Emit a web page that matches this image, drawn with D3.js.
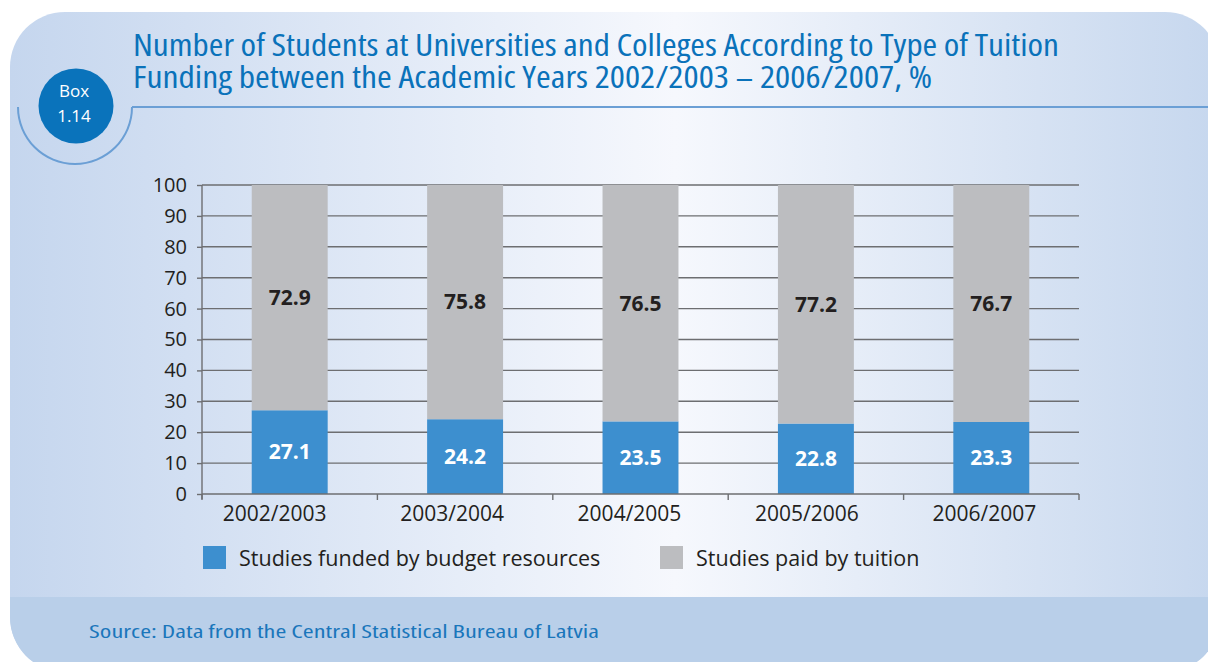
<!DOCTYPE html>
<html>
<head>
<meta charset="utf-8">
<script src="https://cdn.jsdelivr.net/npm/d3@7"></script>
<style>
  html, body { margin: 0; padding: 0; background: #ffffff; }
  svg { display: block; }
</style>
</head>
<body>
<svg id="chart" width="1208" height="662"></svg>
<script>
// Academic years and the share of students by tuition funding type, %
const years = ["2002/2003", "2003/2004", "2004/2005", "2005/2006", "2006/2007"];
const budgetFunded = [27.1, 24.2, 23.5, 22.8, 23.3];
const tuitionPaid = [72.9, 75.8, 76.5, 77.2, 76.7];
const seriesNames = ["Studies funded by budget resources", "Studies paid by tuition"];
const yTicks = [0, 10, 20, 30, 40, 50, 60, 70, 80, 90, 100];

const W = 1208, H = 662;
const blue = "#3d8fcf", gray = "#bcbdc0", titleBlue = "#0a72ba", ink = "#231f20";
const svg = d3.select("#chart");
const defs = svg.append("defs");

// Panel background: horizontal bluish-white gradient
const grad = defs.append("linearGradient").attr("id", "panelGrad")
  .attr("x1", "0").attr("x2", "1").attr("y1", "0").attr("y2", "0");
grad.append("stop").attr("offset", "0%").attr("stop-color", "#c5d6ee");
grad.append("stop").attr("offset", "55%").attr("stop-color", "#f6f8fd");
grad.append("stop").attr("offset", "100%").attr("stop-color", "#c6d7ee");

const panel = { x: 10, y: 12, w: 1210, h: 660, r: 55 };
defs.append("clipPath").attr("id", "panelClip")
  .append("rect").attr("x", panel.x).attr("y", panel.y)
  .attr("width", panel.w).attr("height", panel.h).attr("rx", panel.r).attr("ry", panel.r);

const bg = svg.append("g").attr("clip-path", "url(#panelClip)");
bg.append("rect").attr("x", panel.x).attr("y", panel.y)
  .attr("width", panel.w).attr("height", panel.h).attr("fill", "url(#panelGrad)");
// Source band at the bottom
bg.append("rect").attr("x", panel.x).attr("y", 597)
  .attr("width", panel.w).attr("height", 80).attr("fill", "#b9cfe9");

// Header: rule, arc around the badge, badge
svg.append("line").attr("x1", 132).attr("x2", W).attr("y1", 107).attr("y2", 107)
  .attr("stroke", "#6b9fd5").attr("stroke-width", 2);
svg.append("path").attr("transform", "translate(75,107)")
  .attr("d", d3.arc()({ innerRadius: 56, outerRadius: 58, startAngle: Math.PI / 2, endAngle: Math.PI * 1.5 }))
  .attr("fill", "#6b9fd5");
svg.append("circle").attr("cx", 76).attr("cy", 106).attr("r", 37.5).attr("fill", "#0a73bb");
const badge = svg.append("g").attr("font-family", "'Open Sans', sans-serif")
  .attr("font-size", 17).attr("fill", "#fff").attr("text-anchor", "middle");
badge.append("text").attr("x", 74).attr("y", 97).text("Box");
badge.append("text").attr("x", 74).attr("y", 122).text("1.14");

// Title (condensed)
const titleLines = [
  { t: "Number of Students at Universities and Colleges According to Type of Tuition", y: 56, len: 926 },
  { t: "Funding between the Academic Years 2002/2003 \u2013 2006/2007, %", y: 88, len: 799 }
];
svg.selectAll("text.title").data(titleLines).join("text").attr("class", "title")
  .attr("x", 133).attr("y", d => d.y)
  .attr("font-family", "'Open Sans', sans-serif").attr("font-stretch", "condensed")
  .attr("font-size", 31).attr("fill", titleBlue)
  .attr("textLength", d => d.len).attr("lengthAdjust", "spacingAndGlyphs")
  .text(d => d.t);

// Scales
const x = d3.scaleBand().domain(years).range([202, 1079]).paddingInner(0.567).paddingOuter(0.2835);
const y = d3.scaleLinear().domain([0, 100]).range([494, 185]);
const axisColor = "#6d6e71";

// Gridlines
svg.append("g").selectAll("line").data(yTicks.filter(d => d > 0)).join("line")
  .attr("x1", 202).attr("x2", 1079).attr("y1", d => y(d)).attr("y2", d => y(d))
  .attr("stroke", axisColor).attr("stroke-width", 1.4);

// Y axis
const yAxis = svg.append("g").attr("transform", "translate(202,0)")
  .call(d3.axisLeft(y).tickValues(yTicks).tickSize(5).tickSizeOuter(0));
yAxis.select(".domain").attr("stroke", axisColor).attr("stroke-width", 1.4)
  .attr("d", `M0,${y(100)}V${y(0) + 5}`);
yAxis.selectAll(".tick line").attr("stroke", axisColor).attr("stroke-width", 1.4);
yAxis.selectAll(".tick text").attr("x", -15).attr("fill", ink)
  .attr("font-family", "'Open Sans', sans-serif").attr("font-size", 20);

// Stacked bars
const rows = years.map((yr, i) => ({ yr, b: budgetFunded[i], t: tuitionPaid[i] }));
const bars = svg.append("g");
bars.selectAll("rect.budget").data(rows).join("rect").attr("class", "budget")
  .attr("x", d => x(d.yr)).attr("width", x.bandwidth())
  .attr("y", d => y(d.b)).attr("height", d => y(0) - y(d.b)).attr("fill", blue);
bars.selectAll("rect.tuition").data(rows).join("rect").attr("class", "tuition")
  .attr("x", d => x(d.yr)).attr("width", x.bandwidth())
  .attr("y", d => y(d.b + d.t)).attr("height", d => y(d.b) - y(d.b + d.t)).attr("fill", gray);

// X axis: baseline with ticks between categories
svg.append("line").attr("x1", 202).attr("x2", 1079).attr("y1", y(0)).attr("y2", y(0))
  .attr("stroke", axisColor).attr("stroke-width", 1.4);
const bounds = d3.range(years.length + 1).map(i => x.range()[0] + i * x.step());
svg.append("g").selectAll("line").data(bounds).join("line")
  .attr("x1", d => d).attr("x2", d => d).attr("y1", y(0)).attr("y2", y(0) + 6)
  .attr("stroke", axisColor).attr("stroke-width", 1.4);
svg.append("g").selectAll("text").data(years).join("text")
  .attr("x", (d, i) => x(d) + x.bandwidth() / 2 - 15 + i * 2).attr("y", 521).attr("text-anchor", "middle")
  .attr("font-family", "'Open Sans', sans-serif").attr("font-size", 21).attr("fill", ink)
  .text(d => d);

// Value labels
const lbl = svg.append("g").attr("font-family", "'Open Sans', sans-serif")
  .attr("font-weight", "bold").attr("font-size", 21).attr("text-anchor", "middle");
lbl.selectAll("text.b").data(rows).join("text").attr("class", "b")
  .attr("x", d => x(d.yr) + x.bandwidth() / 2).attr("y", d => y(d.b / 2)).attr("dy", "0.35em")
  .attr("fill", "#ffffff").text(d => d.b.toFixed(1));
lbl.selectAll("text.t").data(rows).join("text").attr("class", "t")
  .attr("x", d => x(d.yr) + x.bandwidth() / 2).attr("y", d => y(d.b + d.t / 2)).attr("dy", "0.35em")
  .attr("fill", ink).text(d => d.t.toFixed(1));

// Legend
const legend = [{ name: seriesNames[0], color: blue, x: 203 }, { name: seriesNames[1], color: gray, x: 660 }];
const lg = svg.append("g").selectAll("g").data(legend).join("g")
  .attr("transform", d => `translate(${d.x},546)`);
lg.append("rect").attr("width", 23).attr("height", 23).attr("fill", d => d.color);
lg.append("text").attr("x", 36).attr("y", 12).attr("dy", "0.35em")
  .attr("font-family", "'Open Sans', sans-serif").attr("font-size", 21.5).attr("fill", ink)
  .text(d => d.name);

// Source
svg.append("text").attr("x", 89).attr("y", 638)
  .attr("font-family", "'Open Sans', sans-serif").attr("font-stretch", "condensed")
  .attr("font-size", 18).attr("fill", "#1a76bb")
  .attr("textLength", 510).attr("lengthAdjust", "spacingAndGlyphs")
  .text("Source: Data from the Central Statistical Bureau of Latvia");
</script>
</body>
</html>
